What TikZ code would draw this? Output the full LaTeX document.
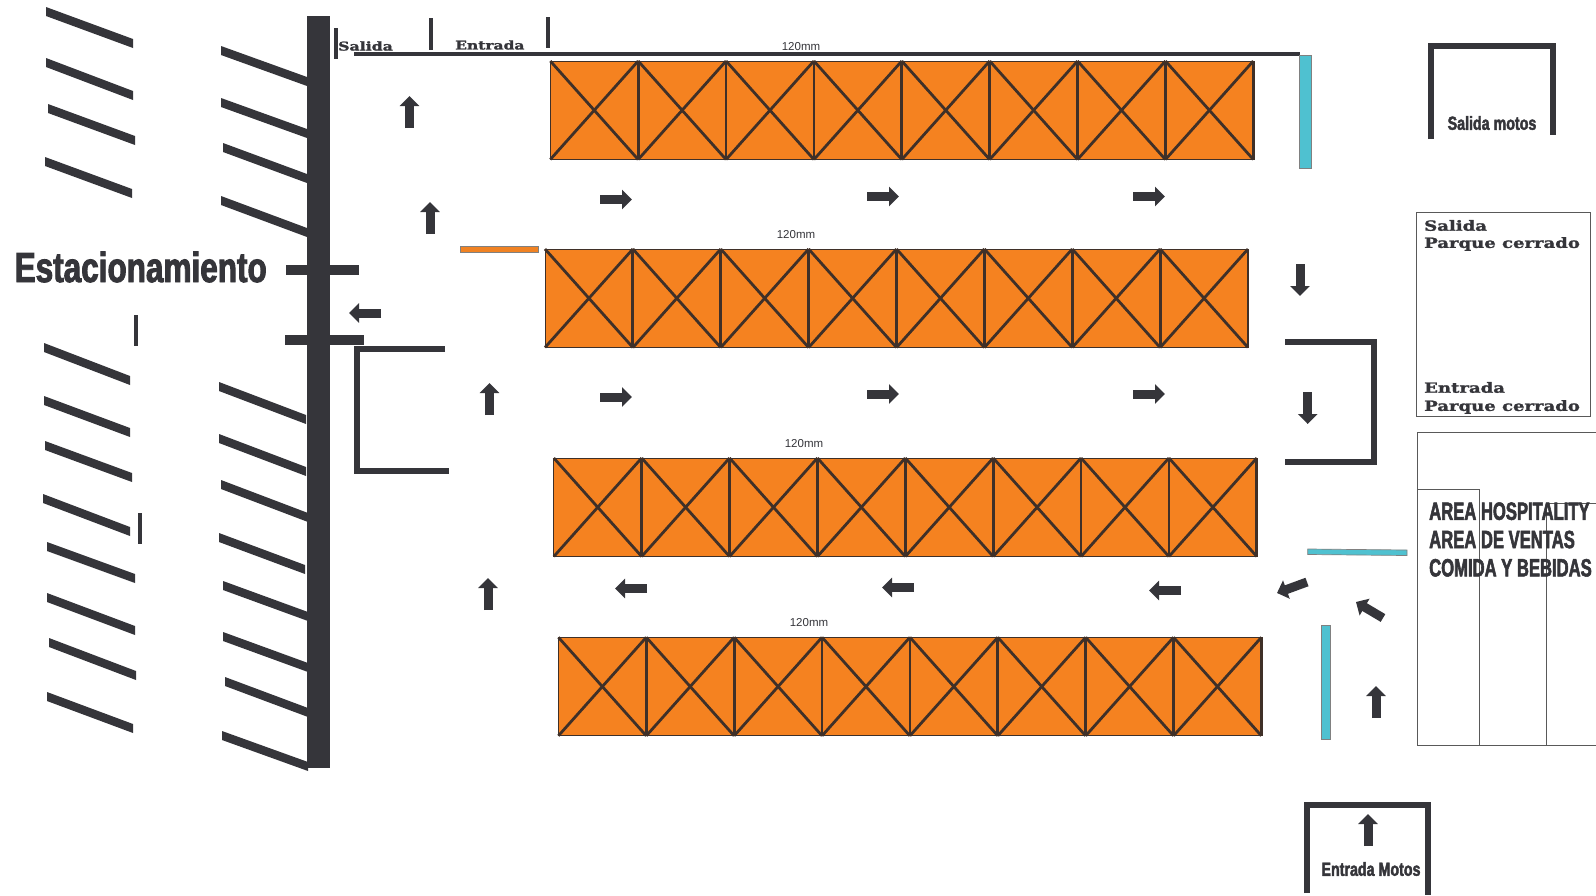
\documentclass[tikz,border=0pt]{standalone}
\usepackage{fontspec}
\usepackage{tikz}
\usetikzlibrary{arrows.meta}
\newfontfamily\heavyfont[UprightFont=* Bold,FakeStretch=0.665,FakeBold=2.2]{Liberation Sans}
\newfontfamily\widefont[UprightFont=* Bold,FakeStretch=0.75,FakeBold=2.2]{Liberation Sans}
\newfontfamily\slabfont[UprightFont=* Bold,FakeStretch=1.29,FakeBold=1.6]{DejaVu Serif}
\newfontfamily\plainfont{Liberation Sans}
\definecolor{wallc}{HTML}{35353A}
\definecolor{rackc}{HTML}{F58220}
\definecolor{rackline}{HTML}{3F3028}
\definecolor{tealc}{HTML}{4FC1D0}
\tikzset{
  flecha/.style={wallc, line width=9pt, -{Triangle[width=19pt,length=10pt]}},
  muro/.style={wallc, line width=6pt},
  tope/.style={wallc, line width=4pt},
  barra/.style={draw=gray, line width=0.7pt, fill=tealc},
  caja/.style={draw=gray!70!black, line width=1pt},
  medida/.style={font=\plainfont\fontsize{11.5}{12}\selectfont, text=wallc, inner sep=0pt},
  slab/.style={font=\slabfont\fontsize{14}{18}\selectfont, text=wallc, inner sep=0pt, anchor=west, align=left},
  heavy/.style={font=\heavyfont, text=wallc, inner sep=0pt, anchor=west, align=left}
}

\begin{document}
\begin{tikzpicture}[x=1pt, y=-1pt]
\useasboundingbox (0,0) rectangle (1596,895);

% wall and stalls
\fill[wallc] (307.3,16) rectangle (329.5,768);
\foreach \xa/\ya/\xb/\yb in {46/7/133/39, 46/58/133/91, 48/104/135/136, 45/157/132/189,
    221/46/307/77, 221/98/307/129, 223/143/307/174, 221/196/307/228,
    44/343/130/376, 44/396/130/428, 45/441/132/473, 43/494/130/527,
    47/542/135/574, 47/593/135/626, 49/638/136/671, 47/692/133/724,
    219/382/306/415, 219/434/306/467, 221/480/308/513, 219/533/305/565,
    223/581/308/612, 223/632/308/663, 225/677/308/708, 222/731/308/762}
  \fill[wallc] (\xa,\ya) -- (\xb,\yb) -- ++(0,9) -- (\xa,\ya+9) -- cycle;
\fill[wallc] (286,265) rectangle (359,275);
\fill[wallc] (285,335) rectangle (364,345);
\draw[tope] (136,315) -- (136,346);
\draw[tope] (140,513) -- (140,544);

% racks
\foreach \xa/\ya in {550.3/61, 545/249, 553.8/458, 558.4/637.3} {
  \fill[rackc] (\xa,\ya) rectangle (\xa+703,\ya+98.5);
  \foreach \i in {0,...,7} {
    \draw[rackline, line width=2.8pt] (\xa+\i*87.875,\ya) -- (\xa+\i*87.875+87.875,\ya+98.5);
    \draw[rackline, line width=2.8pt] (\xa+\i*87.875,\ya+98.5) -- (\xa+\i*87.875+87.875,\ya);
    \draw[rackline, line width=2.8pt] (\xa+\i*87.875+87.875,\ya) -- (\xa+\i*87.875+87.875,\ya+98.5);
  }
  \draw[rackline, line width=1pt] (\xa,\ya) rectangle (\xa+703,\ya+98.5);
}

\node[medida] (medidaA) at (801,47) {120mm};
\node[medida] (medidaB) at (796,235) {120mm};
\node[medida] (medidaC) at (804,444) {120mm};
\node[medida] (medidaD) at (809,623) {120mm};

% top line and gates
\draw[wallc, line width=3.5pt] (354,54) -- (1300,54);
\draw[tope] (335.6,28) -- (335.6,59);
\draw[tope] (430.5,18) -- (430.5,50);
\draw[tope] (548,17) -- (548,48);
\node[slab] (salida) at (338,46) {\fontsize{12.2}{14}\selectfont Salida};
\node[slab] (entrada) at (455,45) {\fontsize{12}{14}\selectfont Entrada};

\draw[muro, line width=5.5pt] (445,349) -- (357,349) -- (357,471) -- (449,471);
\draw[muro] (1285,342) -- (1373.5,342) -- (1373.5,462) -- (1285,462);

% barriers
\fill[barra] (1299,55) rectangle (1311.7,168);
\fill[barra] (1321,625.7) rectangle (1330,739);
\fill[barra] (1307.7,549) -- (1407,550) -- (1407,555.5) -- (1307.7,554.5) -- cycle;
\fill[draw=gray, line width=0.7pt, fill=rackc!90!brown] (460,246.7) rectangle (538,252.3);

% one way arrows
\foreach \xa/\ya in {600/199.5, 867/196.5, 1133/196.5, 600/397, 867/394, 1133/394}
  \draw[flecha] (\xa,\ya) -- (\xa+32,\ya);
\foreach \xa/\ya in {647/588.5, 914/587.5, 1181/590.5, 381/313}
  \draw[flecha] (\xa,\ya) -- (\xa-32,\ya);
\foreach \xa/\ya in {409.5/128, 430/234, 489.5/415, 488/610, 1376/718, 1368/846}
  \draw[flecha] (\xa,\ya) -- (\xa,\ya-32);
\foreach \xa/\ya in {1300/264, 1307.7/392}
  \draw[flecha] (\xa,\ya) -- (\xa,\ya+32);
\draw[flecha] (1307,582) -- (1277,593);
\draw[flecha] (1383,618) -- (1356,602);

% labels on the left and right
\node[heavy, font=\widefont\fontsize{42}{44}\selectfont] (estacionamiento) at (14.5,267) {Estacionamiento};

\draw[muro] (1431,139) -- (1431,46) -- (1553,46) -- (1553,135);
\node[heavy, anchor=center, font=\widefont\fontsize{19}{20}\selectfont] (motosA) at (1492,123) {Salida motos};

\draw[caja] (1416.7,212.7) rectangle (1590.7,416);
\node[slab] (parqueA) at (1424,225.5) {Salida};
\node[slab] (parqueB) at (1424,244) {Parque cerrado};
\node[slab] (parqueC) at (1424,387.5) {Entrada};
\node[slab] (parqueD) at (1424,407) {Parque cerrado};

\draw[caja] (1596,432) -- (1417.7,432) -- (1417.7,745) -- (1596,745);
\draw[caja] (1417.7,489) -- (1479,489) -- (1479,745);
\draw[caja] (1596,503) -- (1546.7,503) -- (1546.7,745);
\node[heavy, font=\heavyfont\fontsize{25}{28.3}\selectfont] (hospitality) at (1429,539.5)
  {AREA HOSPITALITY\\AREA DE VENTAS\\COMIDA Y BEBIDAS};

\draw[muro] (1307,893) -- (1307,804.5) -- (1428,804.5) -- (1428,895);
\node[heavy, anchor=center, font=\widefont\fontsize{19}{20}\selectfont] (motosB) at (1371,869) {Entrada Motos};

\end{tikzpicture}
\end{document}
